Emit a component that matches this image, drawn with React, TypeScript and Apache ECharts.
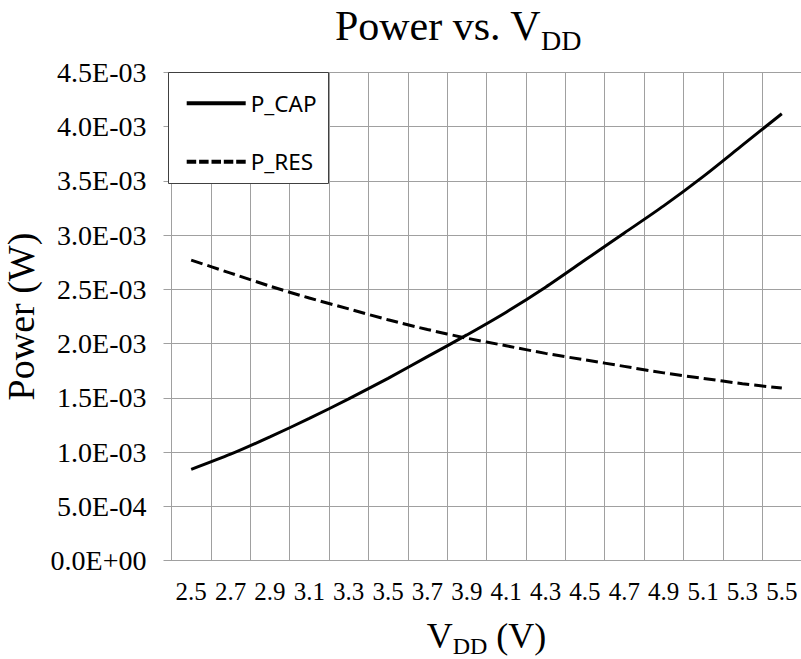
import React, { useEffect, useRef } from "react";
import * as echarts from "echarts";

const categories = ["2.5", "2.7", "2.9", "3.1", "3.3", "3.5", "3.7", "3.9", "4.1", "4.3", "4.5", "4.7", "4.9", "5.1", "5.3", "5.5"];
const pCap = [0.84e-3, 0.98e-3, 1.14e-3, 1.31e-3, 1.49e-3, 1.68e-3, 1.88e-3, 2.08e-3, 2.29e-3, 2.52e-3, 2.77e-3, 3.02e-3, 3.27e-3, 3.54e-3, 3.83e-3, 4.12e-3];
const pRes = [2.77e-3, 2.65e-3, 2.53e-3, 2.42e-3, 2.32e-3, 2.22e-3, 2.13e-3, 2.05e-3, 1.98e-3, 1.91e-3, 1.85e-3, 1.79e-3, 1.73e-3, 1.68e-3, 1.63e-3, 1.59e-3];
const seriesNames = ["P_CAP", "P_RES"];

const SERIF = "'Liberation Serif', 'Times New Roman', serif";
const GRID = "#a0a0a0";

const SOLID_ICON = "path://M0,0H59V4H0Z";
const DASH_ICON =
  "path://M0,0h9.5v4h-9.5z M12.4,0h9.5v4h-9.5z M24.8,0h9.5v4h-9.5z M37.1,0h9.5v4h-9.5z M49.5,0h9.5v4h-9.5z";

function sci(v: number): string {
  const [m, e] = v.toExponential(1).split("e");
  const n = parseInt(e, 10);
  return m + "E" + (n < 0 ? "-" : "+") + String(Math.abs(n)).padStart(2, "0");
}

export default function App() {
  const ref = useRef<HTMLDivElement>(null);
  useEffect(() => {
    if (!ref.current) return;
    const chart = echarts.init(ref.current, undefined, { renderer: "svg" });
    chart.setOption({
      animation: false,
      backgroundColor: "#fff",
      grid: {
        left: 171.5,
        top: 72.5,
        width: 630,
        height: 488,
        containLabel: false,
        outerBoundsMode: "none",
      },
      graphic: [
        {
          type: "text",
          x: 458,
          y: 26,
          style: {
            text: "{a|Power vs. V}{b|DD}",
            align: "center",
            verticalAlign: "middle",
            rich: {
              a: { fontFamily: SERIF, fontSize: 42, fill: "#000" },
              b: { fontFamily: SERIF, fontSize: 28, fill: "#000", padding: [28, 0, 0, 0] },
            },
          },
        },
        {
          type: "rect",
          z: 3,
          shape: { x: 168.5, y: 72.5, width: 160, height: 111 },
          style: { fill: "#fff", stroke: "#404040", lineWidth: 1 },
        },
      ],
      legend: {
        orient: "vertical",
        left: 186.7,
        top: 91.7,
        padding: 0,
        itemWidth: 59,
        itemHeight: 20,
        itemGap: 35.6,
        z: 5,
        textStyle: { fontFamily: "'Noto Sans', sans-serif", fontSize: 22.5, lineHeight: 20, color: "#000" },
        data: [
          { name: seriesNames[0], icon: SOLID_ICON },
          { name: seriesNames[1], icon: DASH_ICON },
        ],
      },
      xAxis: {
        type: "category",
        data: categories,
        boundaryGap: true,
        name: "{v|V}{s|DD}{v| (V)}",
        nameLocation: "middle",
        nameGap: 53,
        nameTextStyle: {
          rich: {
            v: { fontFamily: SERIF, fontSize: 36, color: "#000" },
            s: { fontFamily: SERIF, fontSize: 24, color: "#000", padding: [20, 0, 0, 0] },
          },
        },
        axisLine: { show: true, lineStyle: { color: GRID, width: 1 } },
        axisTick: { show: false },
        axisLabel: { interval: 0, margin: 18, fontFamily: SERIF, fontSize: 25, color: "#000" },
        splitLine: { show: true, interval: 0, lineStyle: { color: GRID, width: 1 } },
      },
      yAxis: {
        type: "value",
        min: 0,
        max: 0.0045,
        interval: 0.0005,
        name: "Power (W)",
        nameLocation: "middle",
        nameGap: 125,
        nameTextStyle: { fontFamily: SERIF, fontSize: 38, color: "#000" },
        axisLine: { show: true, lineStyle: { color: GRID, width: 1 } },
        axisTick: { show: true, length: 8, lineStyle: { color: GRID, width: 1 } },
        axisLabel: { margin: 25, fontFamily: SERIF, fontSize: 28, color: "#000", formatter: (v: number) => sci(v) },
        splitLine: { show: true, lineStyle: { color: GRID, width: 1 } },
      },
      series: [
        {
          name: seriesNames[0],
          type: "line",
          data: pCap,
          symbol: "none",
          smooth: 0.25,
          lineStyle: { color: "#000", width: 3, type: "solid" },
          itemStyle: { color: "#000" },
        },
        {
          name: seriesNames[1],
          type: "line",
          data: pRes,
          symbol: "none",
          smooth: 0.25,
          lineStyle: { color: "#000", width: 3, type: [12, 5] },
          itemStyle: { color: "#000" },
        },
      ],
    });
    return () => chart.dispose();
  }, []);
  return <div ref={ref} style={{ position: "absolute", left: 0, top: 0, width: 801, height: 659 }} />;
}
